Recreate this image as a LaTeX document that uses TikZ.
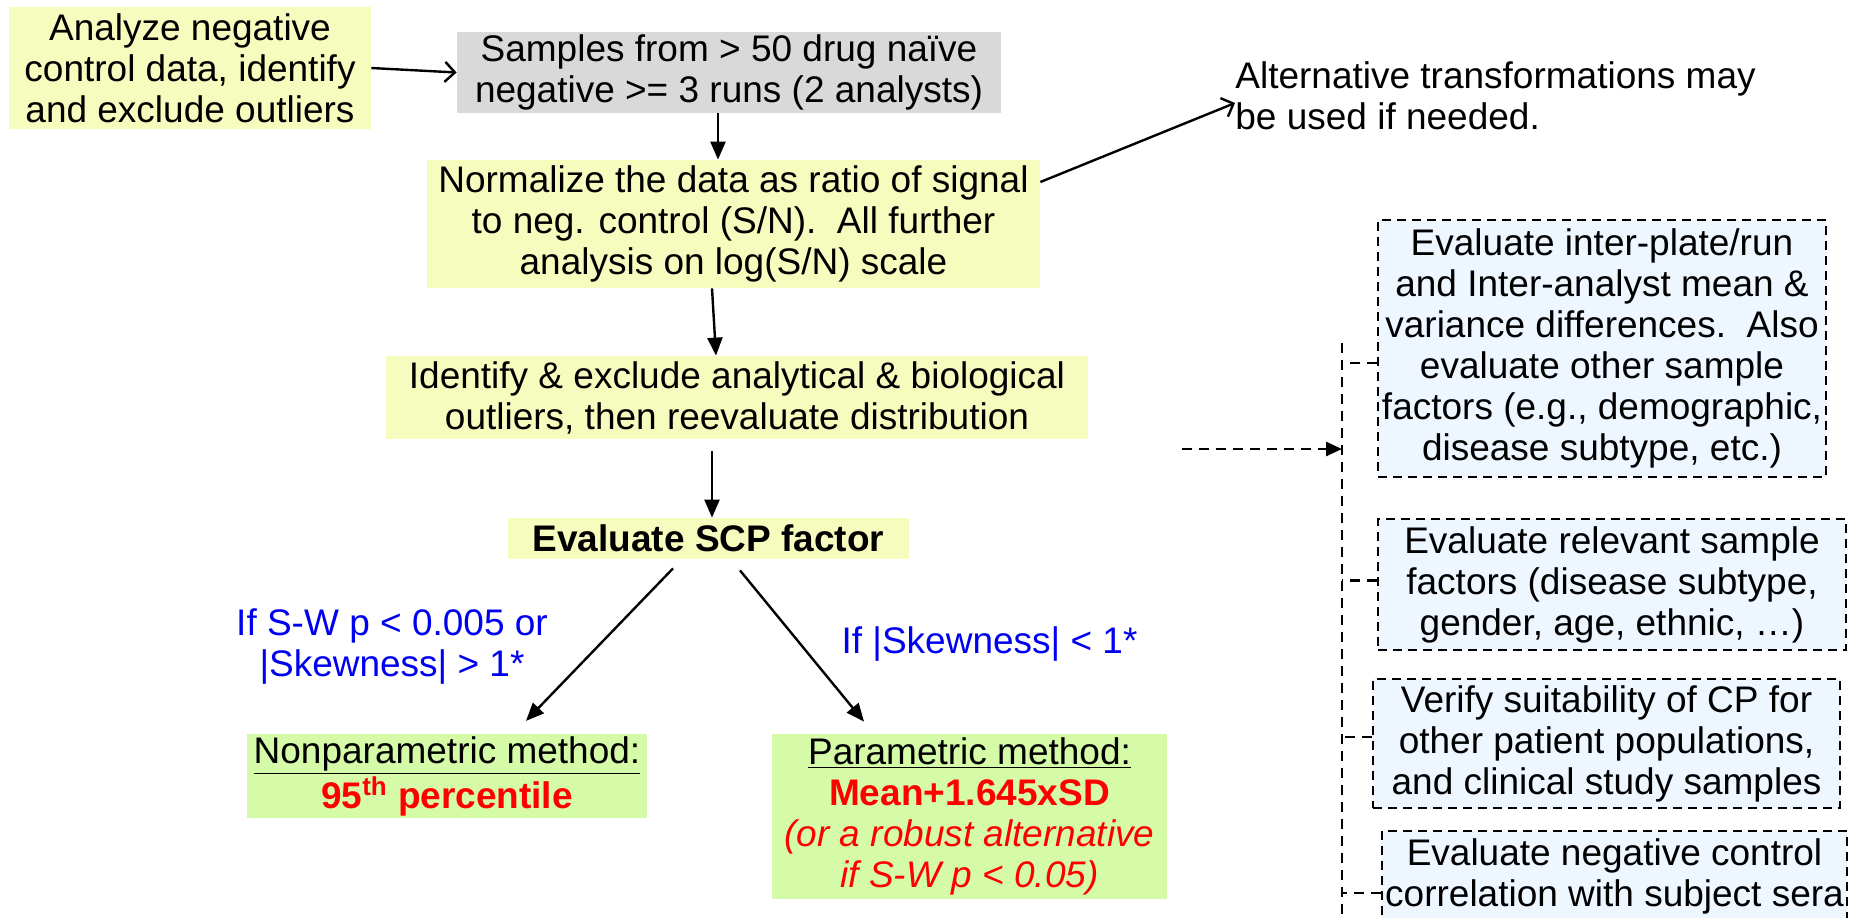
\documentclass[tikz,border=0pt]{standalone}
\usepackage{fontspec}
\setmainfont{Liberation Sans}
\usetikzlibrary{arrows.meta,
                positioning}

\definecolor{boxyellow}{RGB}{246,251,190}
\definecolor{boxgray}{RGB}{217,217,217}
\definecolor{boxgreen}{RGB}{214,251,168}
\definecolor{boxblue}{RGB}{238,246,255}
\definecolor{condblue}{RGB}{0,0,240}

\begin{document}
\begin{tikzpicture}[
            x = 0.5pt, y = -0.5pt,
            font = \fontsize{18.5}{20.5}\selectfont,
            base/.style = {align=center, inner sep=1pt},
            startbox/.style = {base, fill=boxyellow},
            sample/.style = {base, fill=boxgray},
            method/.style = {base, fill=boxgreen},
            factor/.style = {base, draw, line width=1.3pt,
                    dash pattern=on 4.5pt off 3pt, fill=boxblue},
            cond/.style = {align=center, inner sep=0pt, text=condblue},
            arrow/.style = {line width=1.2pt, -{Triangle[length=9pt,width=7.5pt]}},
            openarrow/.style = {line width=1.2pt, -{Straight Barb[length=5pt,width=10pt]}},
            dashline/.style = {line width=1.4pt, dash pattern=on 5pt off 3.5pt}]

        \useasboundingbox (0,0) rectangle (1862,917);

        \node [startbox, minimum width=181pt, minimum height=61pt]
            (analyze) at (190,68) {Analyze negative\\control data, identify\\and exclude outliers};
        \node [sample, minimum width=272pt, minimum height=40.5pt]
            (samples) at (729,72.5) {Samples from > 50 drug naïve\\negative >= 3 runs (2 analysts)};
        \node [startbox, minimum width=306.5pt, minimum height=64pt]
            (normalize) at (733.5,224) {Normalize the data as ratio of signal\\to neg. control (S/N).\ \ All further\\analysis on log(S/N) scale};
        \node [startbox, minimum width=351pt, minimum height=41.5pt]
            (exclude) at (737,397.5) {Identify \& exclude analytical \& biological\\outliers, then reevaluate distribution};
        \node [startbox, minimum width=200.5pt, minimum height=20.5pt]
            (scp) at (708.5,538.5) {\bfseries Evaluate SCP factor};

        % Methods
        \node [method, minimum width=200pt, minimum height=41pt]
            (nonpar) at (447,776) {\underline{Nonparametric method:}\\{\color{red}\bfseries 95\textsuperscript{th} percentile}};
        \node [method, minimum width=197.5pt, minimum height=82.5pt]
            (par) at (969.5,816.5) {\underline{Parametric method:}\\{\color{red}\bfseries Mean+1.645xSD}\\{\color{red}\itshape (or a robust alternative}\\{\color{red}\itshape if S-W p < 0.05)}};
        \node [cond] (nonparcond) at (392,647) {If S-W p < 0.005 or\\|Skewness| > 1*};
        \node [cond] (parcond) at (989.5,643.5) {If |Skewness| < 1*};

        \node [base, align=left, anchor=west, inner sep=0pt]
            (alt) at (1235,96) {Alternative transformations may\\be used if needed.};

        % Factors
        \node [factor, minimum width=224pt, minimum height=128.5pt]
            (interrun) at (1602,348.5) {Evaluate inter-plate/run\\and Inter-analyst mean \&\\variance differences.\ \ Also\\evaluate other sample\\factors (e.g., demographic,\\disease subtype, etc.)};
        \node [factor, minimum width=234pt, minimum height=65.5pt]
            (relevant) at (1612,584.5) {Evaluate relevant sample\\factors (disease subtype,\\gender, age, ethnic, …)};
        \node [factor, minimum width=233.5pt, minimum height=64.5pt]
            (suitable) at (1606.5,743.5) {Verify suitability of CP for\\other patient populations,\\and clinical study samples};
        \node [factor, minimum width=232.5pt, minimum height=45pt]
            (correl) at (1614.5,876) {Evaluate negative control\\correlation with subject sera};

        \coordinate (spinetop) at (1342,343);
        \coordinate (spinebot) at (1342,930);
        \coordinate (feed) at (1182,449);
        %%
        \draw [openarrow] (analyze.east) -- (samples.west);
        \draw [arrow] ([xshift=-5.5pt]samples.south) -- ([xshift=-5.5pt]samples.south |- normalize.north);
        \draw [openarrow] ([yshift=21pt]normalize.east) -- ([yshift=-3.5pt]alt.west);
        \draw [arrow] ([xshift=-10.75pt]normalize.south) -- ([xshift=-10.5pt]exclude.north);
        \draw [arrow, shorten <=6pt] ([xshift=-12.5pt]exclude.south) -- ([xshift=-12.5pt]exclude.south |- scp.north);
        \draw [arrow] ([xshift=-17.75pt,yshift=-4.5pt]scp.south) -- ([xshift=39.5pt,yshift=6.5pt]nonpar.north);
        \draw [arrow] ([xshift=15.75pt,yshift=-5.5pt]scp.south) -- ([xshift=-52.75pt,yshift=6pt]par.north);

        \draw [dashline] (spinetop) -- (spinebot);
        \draw [dashline, -{Triangle[length=8pt,width=7pt]}] (feed) -- (feed -| spinetop);
        \draw [dashline] ([yshift=-7.25pt]interrun.west) -- ([yshift=-7.25pt]interrun.west -| spinetop);
        \draw [dashline] ([yshift=2pt]relevant.west) -- ([yshift=2pt]relevant.west -| spinetop);
        \draw [dashline] ([yshift=3.25pt]suitable.west) -- ([yshift=3.25pt]suitable.west -| spinetop);
        \draw [dashline] ([yshift=-8.5pt]correl.west) -- ([yshift=-8.5pt]correl.west -| spinetop);
    \end{tikzpicture}
\end{document}
